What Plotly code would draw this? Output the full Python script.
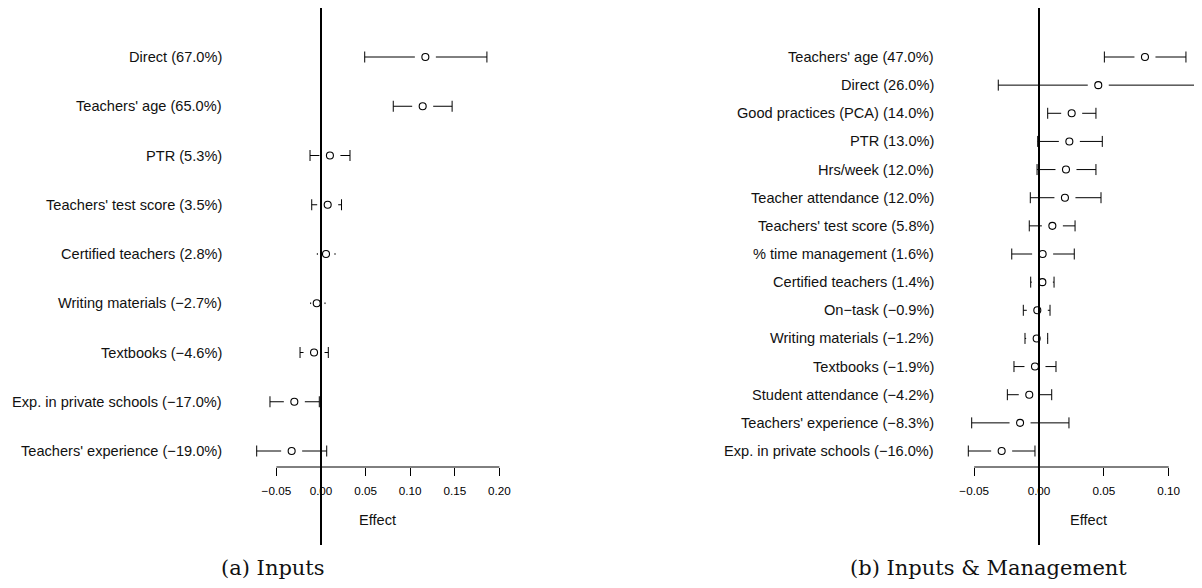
import plotly.graph_objects as go

# page has an 8px body margin: the figure origin sits at (8, 8) in the window
OFF = 8
W, H = 1202 - OFF, 588 - OFF

# ---------------- Panel (a) Inputs ----------------
a_labels = ["Direct (67.0%)", "Teachers' age (65.0%)", "PTR (5.3%)",
            "Teachers' test score (3.5%)", "Certified teachers (2.8%)",
            "Writing materials (\u22122.7%)", "Textbooks (\u22124.6%)",
            "Exp. in private schools (\u221217.0%)", "Teachers' experience (\u221219.0%)"]
a_est = [0.117, 0.114, 0.010, 0.0075, 0.0056, -0.0048, -0.0078, -0.0299, -0.0329]
a_lo = [0.049, 0.081, -0.0123, -0.0104, -0.0041, -0.0116, -0.0235, -0.0572, -0.0721]
a_hi = [0.186, 0.147, 0.0325, 0.023, 0.0157, 0.0045, 0.0082, -0.0019, 0.0064]
a_ticks = [-0.05, 0.00, 0.05, 0.10, 0.15, 0.20]

# ---------------- Panel (b) Inputs & Management ----------------
b_labels = ["Teachers' age (47.0%)", "Direct (26.0%)", "Good practices (PCA) (14.0%)",
            "PTR (13.0%)", "Hrs/week (12.0%)", "Teacher attendance (12.0%)",
            "Teachers' test score (5.8%)", "% time management (1.6%)",
            "Certified teachers (1.4%)", "On\u2212task (\u22120.9%)",
            "Writing materials (\u22121.2%)", "Textbooks (\u22121.9%)",
            "Student attendance (\u22124.2%)", "Teachers' experience (\u22128.3%)",
            "Exp. in private schools (\u221216.0%)"]
b_est = [0.0817, 0.0457, 0.0252, 0.0234, 0.0208, 0.0200, 0.0103, 0.0028, 0.0026,
         -0.0013, -0.0018, -0.0031, -0.0075, -0.0146, -0.0288]
b_lo = [0.0504, -0.0314, 0.0067, -0.0010, -0.0015, -0.0067, -0.0075, -0.0210, -0.0064,
        -0.0121, -0.0108, -0.0193, -0.0244, -0.0519, -0.0545]
b_hi = [0.1133, 0.1234, 0.0439, 0.0488, 0.0439, 0.0478, 0.0278, 0.0272, 0.0116,
        0.0085, 0.0067, 0.0131, 0.0098, 0.0231, -0.0031]
b_ticks = [-0.05, 0.00, 0.05, 0.10]

# ---------------- layout geometry (window pixels) ----------------
TOP_PX, ROW0_PX, ROWN_PX, AXIS_PX, ZBOT_PX = 8, 57, 451, 467, 545
GAP_PX, CAP_PX, DOT_PX = 10.5, 5.5, 0.8
FONT = "Liberation Sans, Arial, sans-serif"
SERIF = "DejaVu Serif, serif"


def px_x(px):
    return (px - OFF) / W


def px_y(px):
    return 1 - (px - OFF) / H


panels = [
    dict(labels=a_labels, est=a_est, lo=a_lo, hi=a_hi, ticks=a_ticks,
         zero_px=321.0, ppu=892.0, dom=(232, 522), lab_px=224, eff_px=377, cap_px=272.5,
         caption="(a) Inputs", xa="x", ya="y"),
    dict(labels=b_labels, est=b_est, lo=b_lo, hi=b_hi, ticks=b_ticks,
         zero_px=1039.0, ppu=1297.0, dom=(946, 1202), lab_px=935.7, eff_px=1088.7, cap_px=989,
         caption="(b) Inputs &amp; Management", xa="x2", ya="y2"),
]

fig = go.Figure()
shapes, annotations = [], []
layout_axes = {}

for k, p in enumerate(panels):
    n = len(p["labels"])
    sp = (ROWN_PX - ROW0_PX) / (n - 1)
    rows = [n - 1 - i for i in range(n)]
    gap = GAP_PX / p["ppu"]
    cap = CAP_PX / sp
    dot = DOT_PX / sp
    xs, ys = [], []
    for y, e, l, h in zip(rows, p["est"], p["lo"], p["hi"]):
        for b, s in ((l, -1), (h, 1)):
            inner = e + s * gap
            if (b - inner) * s > 0:
                xs += [inner, b, None, b, b, None]
                ys += [y, y, None, y - cap, y + cap, None]
            else:
                xs += [b, b, None]
                ys += [y - dot, y + dot, None]
    fig.add_trace(go.Scatter(x=xs, y=ys, mode="lines", line=dict(color="black", width=1),
                             xaxis=p["xa"], yaxis=p["ya"], hoverinfo="skip", showlegend=False))
    fig.add_trace(go.Scatter(x=p["est"], y=rows, mode="markers",
                             marker=dict(symbol="circle-open", size=7, color="black",
                                         line=dict(width=1.1)),
                             xaxis=p["xa"], yaxis=p["ya"], showlegend=False))
    x0 = (p["dom"][0] - p["zero_px"]) / p["ppu"]
    x1 = (p["dom"][1] - p["zero_px"]) / p["ppu"]
    ylo = -(AXIS_PX - ROWN_PX) / sp
    yhi = (n - 1) + (ROW0_PX - TOP_PX) / sp
    sfx = "" if k == 0 else "2"
    layout_axes["xaxis" + sfx] = dict(
        domain=[px_x(p["dom"][0]), min(1.0, px_x(p["dom"][1]))], range=[x0, x1], anchor=p["ya"],
        showgrid=False, zeroline=False, showline=False, ticks="outside", ticklen=8,
        tickwidth=1, tickcolor="black", tickvals=p["ticks"], tickformat=".2f",
        ticklabelstandoff=5,
        tickfont=dict(family=FONT, size=11.7, color="black"), fixedrange=True)
    layout_axes["yaxis" + sfx] = dict(
        domain=[px_y(AXIS_PX), px_y(TOP_PX)], range=[ylo, yhi], anchor=p["xa"],
        visible=False, fixedrange=True)
    xref = p["xa"]
    shapes.append(dict(type="line", xref=xref, yref="paper", x0=p["ticks"][0], x1=p["ticks"][-1],
                       y0=px_y(AXIS_PX), y1=px_y(AXIS_PX), line=dict(color="black", width=1)))
    shapes.append(dict(type="line", xref=xref, yref="paper", x0=0, x1=0,
                       y0=px_y(ZBOT_PX), y1=px_y(TOP_PX), line=dict(color="black", width=2),
                       layer="above"))
    for y, lab in zip(rows, p["labels"]):
        annotations.append(dict(text=lab, xref="paper", yref=p["ya"], x=px_x(p["lab_px"]), y=y,
                                xanchor="right", yanchor="middle", showarrow=False,
                                font=dict(family=FONT, size=14.6, color="#111")))
    annotations.append(dict(text="Effect", xref="paper", yref="paper", x=px_x(p["eff_px"]),
                            y=px_y(520), xanchor="center", yanchor="middle", showarrow=False,
                            font=dict(family=FONT, size=14.6, color="#111")))
    annotations.append(dict(text=p["caption"], xref="paper", yref="paper", x=px_x(p["cap_px"]),
                            y=px_y(568), xanchor="center", yanchor="middle", showarrow=False,
                            font=dict(family=SERIF, size=21, color="#111")))

fig.update_layout(width=W, height=H, autosize=False, margin=dict(l=0, r=0, t=0, b=0),
                  paper_bgcolor="white", plot_bgcolor="white", shapes=shapes,
                  annotations=annotations, showlegend=False, **layout_axes)

fig.write_html("out.html")
